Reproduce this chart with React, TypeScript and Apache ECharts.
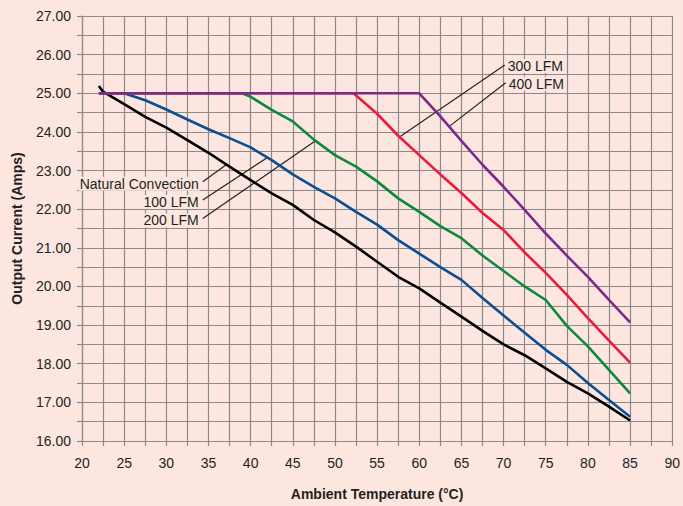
import React, { useEffect, useRef } from "react";
import * as echarts from "echarts";

const FONT = '"Liberation Sans Narrow", "Arial Narrow", "Liberation Sans", sans-serif';

// Ambient temperature (°C) vs output current (A)
const naturalConvection: number[][] = [
  [22, 25.19], [22.5, 25.04], [25, 24.72], [27.5, 24.39], [30, 24.11], [32.5, 23.79],
  [35, 23.46], [37.5, 23.1], [40, 22.75], [42.5, 22.41], [45, 22.11], [47.5, 21.72],
  [50, 21.4], [52.5, 21.03], [55, 20.64], [57.5, 20.25], [60, 19.95], [62.5, 19.58],
  [65, 19.22], [67.5, 18.85], [70, 18.5], [72.5, 18.22], [75, 17.88], [77.5, 17.53],
  [80, 17.23], [82.5, 16.89], [85, 16.53],
];
const lfm100: number[][] = [
  [22, 25], [25, 25], [27.5, 24.82], [30, 24.58], [32.5, 24.32], [35, 24.07],
  [37.5, 23.84], [40, 23.6], [42.5, 23.27], [45, 22.9], [47.5, 22.58], [50, 22.28],
  [52.5, 21.93], [55, 21.6], [57.5, 21.2], [60, 20.85], [62.5, 20.5], [65, 20.17],
  [67.5, 19.7], [70, 19.25], [72.5, 18.8], [75, 18.36], [77.5, 17.97], [80, 17.5],
  [82.5, 17.06], [85, 16.63],
];
const lfm200: number[][] = [
  [22, 25], [39, 25], [40, 24.91], [42.5, 24.57], [45, 24.27], [47.5, 23.8],
  [50, 23.4], [52.5, 23.1], [55, 22.72], [57.5, 22.28], [60, 21.93], [62.5, 21.56],
  [65, 21.25], [67.5, 20.8], [70, 20.4], [72.5, 20.0], [75, 19.65], [77.5, 18.98],
  [80, 18.45], [82.5, 17.84], [85, 17.23],
];
const lfm300: number[][] = [
  [22, 25], [52.2, 25], [55, 24.47], [57.5, 23.9], [60, 23.4], [62.5, 22.9],
  [65, 22.42], [67.5, 21.9], [70, 21.46], [72.5, 20.88], [75, 20.35], [77.5, 19.78],
  [80, 19.18], [82.5, 18.6], [85, 18.03],
];
const lfm400: number[][] = [
  [22, 25], [60, 25], [62.5, 24.4], [65, 23.77], [67.5, 23.15], [70, 22.58],
  [72.5, 21.98], [75, 21.37], [77.5, 20.8], [80, 20.25], [82.5, 19.65], [85, 19.07],
];

const seriesNames = ["Natural Convection", "100 LFM", "200 LFM", "300 LFM", "400 LFM"];
const seriesColors = ["#000000", "#0b4f93", "#0b8a3c", "#ec1b3b", "#7b2a8c"];
const seriesData = [naturalConvection, lfm100, lfm200, lfm300, lfm400];

// Leader lines: [labelAnchor, pointOnCurve] in data coordinates
const leaderLabels = ["Natural Convection", "100 LFM", "200 LFM", "300 LFM", "400 LFM"];
const leaderStarts: number[][] = [[34.32, 22.71], [34.32, 22.24], [34.32, 21.76], [70.14, 25.73], [70.25, 25.27]];
const leaderEnds: number[][] = [[37.1, 23.15], [42.0, 23.34], [47.7, 23.77], [57.74, 23.88], [63.6, 24.15]];
const leaderSide = ["left", "left", "left", "right", "right"];

const GRID_COLOR = "#8a8a8a";
const TEXT_COLOR = "#231f20";
const BG = "#fde6e0";

export default function App() {
  const ref = useRef<HTMLDivElement>(null);
  useEffect(() => {
    if (!ref.current) return;
    const chart = echarts.init(ref.current, undefined, { renderer: "svg" });
    const leaderSeries = leaderStarts.map((s, i) => ({
      type: "line",
      data: [s, leaderEnds[i]],
      symbol: "none",
      silent: true,
      z: 1,
      lineStyle: { color: "#2b2118", width: 1.2 },
    }));
    const curveSeries = seriesData.map((d, i) => ({
      type: "line",
      name: seriesNames[i],
      data: d,
      symbol: "none",
      z: 2 + i,
      lineStyle: { color: seriesColors[i], width: 2.6 },
    }));
    const option: any = {
      animation: false,
      backgroundColor: BG,
      grid: { left: 82, top: 16, width: 593, height: 425 },
      xAxis: {
        type: "value",
        min: 20,
        max: 90,
        interval: 2.5,
        axisLine: { lineStyle: { color: GRID_COLOR, width: 1.2 } },
        axisTick: { show: true, length: 5, lineStyle: { color: GRID_COLOR, width: 1.2 } },
        splitLine: { show: true, lineStyle: { color: GRID_COLOR, width: 1.2 } },
        axisLabel: {
          formatter: (v: number) => (v % 5 === 0 ? String(v) : ""),
          color: TEXT_COLOR,
          fontFamily: FONT,
          fontSize: 14,
          margin: 15,
        },
        name: "Ambient Temperature (°C)",
        nameLocation: "middle",
        nameGap: 46,
        nameTextStyle: { fontWeight: "bold", fontSize: 14, color: TEXT_COLOR, fontFamily: FONT },
      },
      yAxis: {
        type: "value",
        min: 16,
        max: 27,
        interval: 0.5,
        axisLine: { show: true, lineStyle: { color: GRID_COLOR, width: 1.2 } },
        axisTick: { show: true, length: 5, lineStyle: { color: GRID_COLOR, width: 1.2 } },
        splitLine: { show: true, lineStyle: { color: GRID_COLOR, width: 1.2 } },
        axisLabel: {
          formatter: (v: number) => (v % 1 === 0 ? v.toFixed(2) : ""),
          color: TEXT_COLOR,
          fontFamily: FONT,
          fontSize: 14,
          margin: 11,
        },
        name: "Output Current (Amps)",
        nameLocation: "middle",
        nameGap: 58,
        nameRotate: 90,
        nameTextStyle: { fontWeight: "bold", fontSize: 14, color: TEXT_COLOR, fontFamily: FONT },
      },
      series: [...leaderSeries, ...curveSeries],
    };
    chart.setOption(option);
    const texts = leaderStarts.map((s, i) => {
      const p = chart.convertToPixel({ gridIndex: 0 }, s) as number[];
      const left = leaderSide[i] === "left";
      return {
        type: "text",
        z: 100,
        x: left ? p[0] - 3 : p[0] + 2,
        y: p[1] + (left ? 2 : 1),
        style: {
          text: leaderLabels[i],
          fill: TEXT_COLOR,
          font: `14px ${FONT}`,
          align: left ? "right" : "left",
          verticalAlign: "middle",
          backgroundColor: BG,
          padding: [0, 1, 0, 1],
        },
      };
    });
    chart.setOption({ graphic: texts });
    return () => chart.dispose();
  }, []);
  return <div ref={ref} style={{ position: "fixed", left: 0, top: 0, width: 683, height: 506 }} />;
}
